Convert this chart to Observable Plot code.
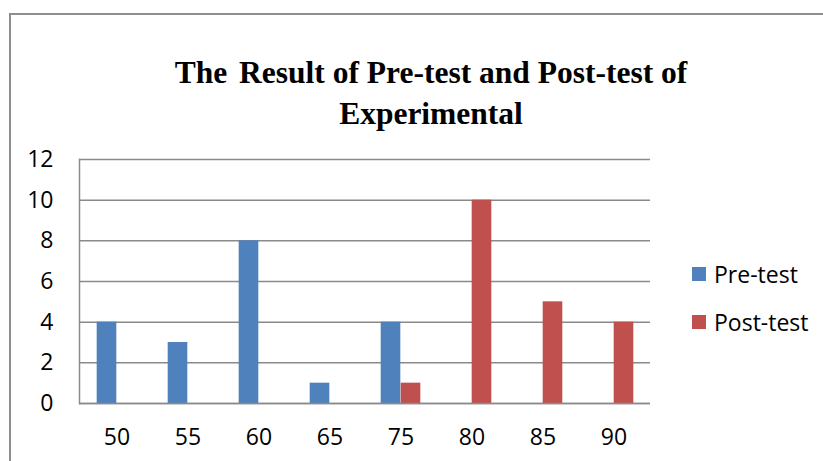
<!DOCTYPE html>
<html>
<head>
<meta charset="utf-8">
<script src="https://cdn.jsdelivr.net/npm/d3@7"></script>
<script src="https://cdn.jsdelivr.net/npm/@observablehq/plot@0.6"></script>
<style>
  html, body { margin: 0; padding: 0; background: #fff; }
  #wrap { position: relative; width: 823px; height: 461px; overflow: hidden; background: #fff; }
  #border { position: absolute; left: 9px; top: 13px; width: 900px; height: 600px; border: 2px solid #8f8f8f; box-sizing: border-box; }
  #chart { position: absolute; left: 0; top: 0; }
  #title { position: absolute; left: 0; width: 862px; top: 52px; text-align: center;
           font-family: "Liberation Serif", "Times New Roman", serif; font-weight: bold; font-size: 31.5px; line-height: 41px; color: #000; }
  .leg { position: absolute; left: 692px; font-family: "Open Sans", sans-serif; font-size: 23px; color: #000; display: flex; align-items: center; }
  .leg span.sw { display: inline-block; width: 14px; height: 14px; margin-right: 8px; }
</style>
</head>
<body>
<div id="wrap">
  <div id="border"></div>
  <div id="chart"></div>
  <div id="title">The<span style="display:inline-block;width:4px"></span> Result of Pre-test and Post-test of<br>Experimental</div>
  <div id="legend"></div>
</div>
<script>
const categories = ["50", "55", "60", "65", "75", "80", "85", "90"];
const series = ["Pre-test", "Post-test"];
const preTest = [4, 3, 8, 1, 4, 0, 0, 0];
const postTest = [0, 0, 0, 0, 1, 10, 5, 4];
const yTicks = [0, 2, 4, 6, 8, 10, 12];
const colors = ["#4F81BD", "#C0504D"];

const data = categories.flatMap((c, i) => [
  {cat: c, series: series[0], value: preTest[i]},
  {cat: c, series: series[1], value: postTest[i]}
]);

const W = 823, H = 461, mL = 79, mR = 173, mT = 159, mB = 58;
const bw = (W - mL - mR) / categories.length;
const barW = 20;

const chart = Plot.plot({
  width: W, height: H,
  marginLeft: mL, marginRight: mR, marginTop: mT, marginBottom: mB,
  style: {fontFamily: "'Open Sans', sans-serif", fontSize: "23px", color: "#000", background: "transparent"},
  x: {domain: categories, padding: 0, label: null},
  y: {domain: [0, 12], label: null},
  color: {domain: series, range: colors},
  marks: [
    Plot.ruleY(yTicks, {stroke: "#8a8a8a", strokeWidth: 1.5}),
    Plot.barY(data.filter(d => d.series === series[0]), {
      x: "cat", y: "value", fill: "series",
      insetLeft: bw / 2 - barW, insetRight: bw / 2
    }),
    Plot.barY(data.filter(d => d.series === series[1]), {
      x: "cat", y: "value", fill: "series",
      insetLeft: bw / 2, insetRight: bw / 2 - barW
    }),
    Plot.frame({anchor: "left", stroke: "#8a8a8a", strokeWidth: 1.5}),
    Plot.ruleY([0], {stroke: "#8a8a8a", strokeWidth: 1.5}),
    Plot.axisY({ticks: yTicks, tickSize: 0, tickPadding: 26, fontSize: 23, label: null}),
    Plot.axisX({tickSize: 0, tickPadding: 25, fontSize: 23, label: null})
  ]
});
document.getElementById("chart").appendChild(chart);

const legend = document.getElementById("legend");
const legTops = [258, 306];
series.forEach((s, i) => {
  const el = document.createElement("div");
  el.className = "leg";
  el.style.top = legTops[i] + "px";
  el.innerHTML = `<span class="sw" style="background:${colors[i]}"></span>${s}`;
  legend.appendChild(el);
});
</script>
</body>
</html>
